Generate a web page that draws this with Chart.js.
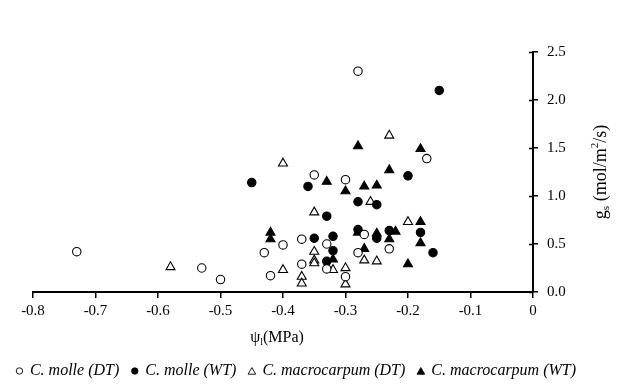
<!DOCTYPE html>
<html>
<head>
<meta charset="utf-8">
<style>
  body { margin: 0; background: #fff; }
  canvas { display: block; }
</style>
</head>
<body>
<canvas id="gsChart" width="624" height="388"></canvas>
<script src="https://cdn.jsdelivr.net/npm/chart.js"></script>
<script>
// leaf water potential (MPa) vs stomatal conductance (mol/m2/s)
const molleDT_x = [-0.73, -0.53, -0.50, -0.43, -0.42, -0.40, -0.37, -0.37, -0.35, -0.33, -0.33, -0.30, -0.30, -0.28, -0.28, -0.27, -0.23, -0.17]
const molleDT_y = [0.42, 0.25, 0.13, 0.41, 0.17, 0.49, 0.55, 0.29, 1.22, 0.50, 0.24, 1.17, 0.16, 2.30, 0.41, 0.60, 0.45, 1.39]

const molleWT_x = [-0.45, -0.36, -0.35, -0.33, -0.32, -0.32, -0.33, -0.28, -0.28, -0.25, -0.25, -0.23, -0.20, -0.18, -0.16, -0.15]
const molleWT_y = [1.14, 1.10, 0.56, 0.79, 0.58, 0.43, 0.32, 0.94, 0.65, 0.91, 0.56, 0.64, 1.21, 0.62, 0.41, 2.10]

const macroDT_x = [-0.58, -0.40, -0.40, -0.37, -0.37, -0.35, -0.35, -0.35, -0.35, -0.32, -0.30, -0.30, -0.27, -0.26, -0.25, -0.23, -0.20]
const macroDT_y = [0.26, 1.34, 0.23, 0.16, 0.09, 0.83, 0.42, 0.33, 0.30, 0.23, 0.25, 0.08, 0.33, 0.94, 0.32, 1.63, 0.73]

const macroWT_x = [-0.42, -0.42, -0.33, -0.32, -0.30, -0.28, -0.28, -0.27, -0.27, -0.25, -0.25, -0.23, -0.23, -0.22, -0.20, -0.18, -0.18, -0.18]
const macroWT_y = [0.62, 0.55, 1.15, 0.34, 1.05, 1.52, 0.62, 1.10, 0.45, 1.11, 0.61, 1.27, 0.55, 0.63, 0.29, 1.49, 0.73, 0.51]

const seriesLabels = ['C. molle (DT)', 'C. molle (WT)', 'C. macrocarpum (DT)', 'C. macrocarpum (WT)']

const xMin = -0.8, xMax = 0, xStep = 0.1
const yMin = 0, yMax = 2.5, yStep = 0.5

const SERIF = "'Liberation Serif', 'Times New Roman', serif"

function pts(xs, ys) {
  return xs.map((x, i) => ({ x: x, y: ys[i] }))
}

function ds(label, xs, ys, style, filled) {
  return {
    label: label,
    data: pts(xs, ys),
    pointStyle: style,
    pointRadius: style === 'triangle' ? 5.2 : 4.2,
    pointBackgroundColor: filled ? '#000' : '#fff',
    pointBorderColor: '#000',
    pointBorderWidth: 1.1,
    showLine: false,
  }
}

// titles with sub/superscripts, inner half of the y ticks, and the legend row
const extras = {
  id: 'extras',
  afterDraw(chart) {
    const ctx = chart.ctx
    const area = chart.chartArea
    const ys = chart.scales.y
    ctx.save()
    ctx.strokeStyle = '#000'
    ctx.lineWidth = 1.5
    for (let v = yMin; v <= yMax + 1e-9; v += yStep) {
      const py = Math.round(ys.getPixelForValue(v)) + 0.5
      ctx.beginPath()
      ctx.moveTo(area.right - 4, py)
      ctx.lineTo(area.right, py)
      ctx.stroke()
    }

    ctx.fillStyle = '#000'
    ctx.textBaseline = 'middle'

    // run of text pieces: [text, size, baseline shift]
    function runWidth(parts) {
      let w = 0
      parts.forEach(p => { ctx.font = p[1] + 'px ' + SERIF; w += ctx.measureText(p[0]).width })
      return w
    }
    function drawRun(parts, x, y) {
      parts.forEach(p => {
        ctx.font = p[1] + 'px ' + SERIF
        ctx.fillText(p[0], x, y + p[2])
        x += ctx.measureText(p[0]).width
      })
    }

    // x title
    const xt = [['\u03C8', 16, 0], ['l', 10, 4], ['(MPa)', 16, 0]]
    ctx.textAlign = 'left'
    const xc = (area.left + area.right) / 2 - 6
    drawRun(xt, xc - runWidth(xt) / 2, area.bottom + 46)

    // y title, rotated
    const yt = [['g', 18, 0], ['s', 11, 5], [' (mol/m', 18, 0], ['2', 11, -6], ['/s)', 18, 0]]
    ctx.save()
    ctx.translate(area.right + 68, (area.top + area.bottom) / 2)
    ctx.rotate(-Math.PI / 2)
    drawRun(yt, -runWidth(yt) / 2, 0)
    ctx.restore()

    // legend
    const legY = 371
    ctx.font = 'italic 16px ' + SERIF
    const items = chart.data.datasets.map(d => ({
      label: d.label,
      style: d.pointStyle,
      fill: d.pointBackgroundColor,
      w: ctx.measureText(d.label).width,
    }))
    const symW = 7, symGap = 7, itemGap = 12
    let total = 0
    items.forEach((it, i) => { total += symW + symGap + it.w + (i < items.length - 1 ? itemGap : 0) })
    let x = chart.width / 2 - 16 - total / 2
    items.forEach(it => {
      const cx = x + symW / 2
      ctx.beginPath()
      if (it.style === 'triangle') {
        const r = 4.4
        ctx.moveTo(cx, legY - r + 1)
        ctx.lineTo(cx + r * 0.866, legY + r / 2 + 1)
        ctx.lineTo(cx - r * 0.866, legY + r / 2 + 1)
        ctx.closePath()
      } else {
        ctx.arc(cx, legY, 3.2, 0, Math.PI * 2)
      }
      ctx.fillStyle = it.fill
      ctx.fill()
      ctx.lineWidth = 0.9
      ctx.stroke()
      ctx.fillStyle = '#000'
      ctx.textAlign = 'left'
      ctx.font = 'italic 16px ' + SERIF
      ctx.fillText(it.label, x + symW + symGap, legY)
      x += symW + symGap + it.w + itemGap
    })
    ctx.restore()
  },
}

const scatterConfig = {
  type: 'scatter',
  data: {
    datasets: [
      ds(seriesLabels[0], molleDT_x, molleDT_y, 'circle', false),
      ds(seriesLabels[1], molleWT_x, molleWT_y, 'circle', true),
      ds(seriesLabels[2], macroDT_x, macroDT_y, 'triangle', false),
      ds(seriesLabels[3], macroWT_x, macroWT_y, 'triangle', true),
    ],
  },
  options: {
    responsive: false,
    animation: false,
    events: [],
    layout: { padding: { top: 52, left: 33, right: 0, bottom: 0 } },
    plugins: {
      legend: { display: false },
      tooltip: { enabled: false },
    },
    scales: {
      x: {
        type: 'linear',
        position: 'bottom',
        min: xMin,
        max: xMax,
        afterFit: (s) => { s.height = 96 },
        ticks: {
          stepSize: xStep,
          color: '#000',
          font: { family: SERIF, size: 15 },
          padding: 4,
          maxRotation: 0,
          callback: (v) => Math.abs(v) < 1e-9 ? '0' : v.toFixed(1),
        },
        grid: { drawOnChartArea: false, drawTicks: true, tickLength: 6, color: '#000', lineWidth: 1.5 },
        border: { color: '#000', width: 2 },
      },
      y: {
        position: 'right',
        min: yMin,
        max: yMax,
        afterFit: (s) => { s.width = 91 },
        ticks: {
          stepSize: yStep,
          color: '#000',
          font: { family: SERIF, size: 15 },
          padding: 9,
          callback: (v) => v.toFixed(1),
        },
        grid: { drawOnChartArea: false, drawTicks: true, tickLength: 5, color: '#000', lineWidth: 1.5 },
        border: { color: '#000', width: 2 },
      },
    },
  },
  plugins: [extras],
}

const ctxGs = document.getElementById('gsChart')
window.gsChart = new Chart(ctxGs, scatterConfig)
</script>
</body>
</html>
